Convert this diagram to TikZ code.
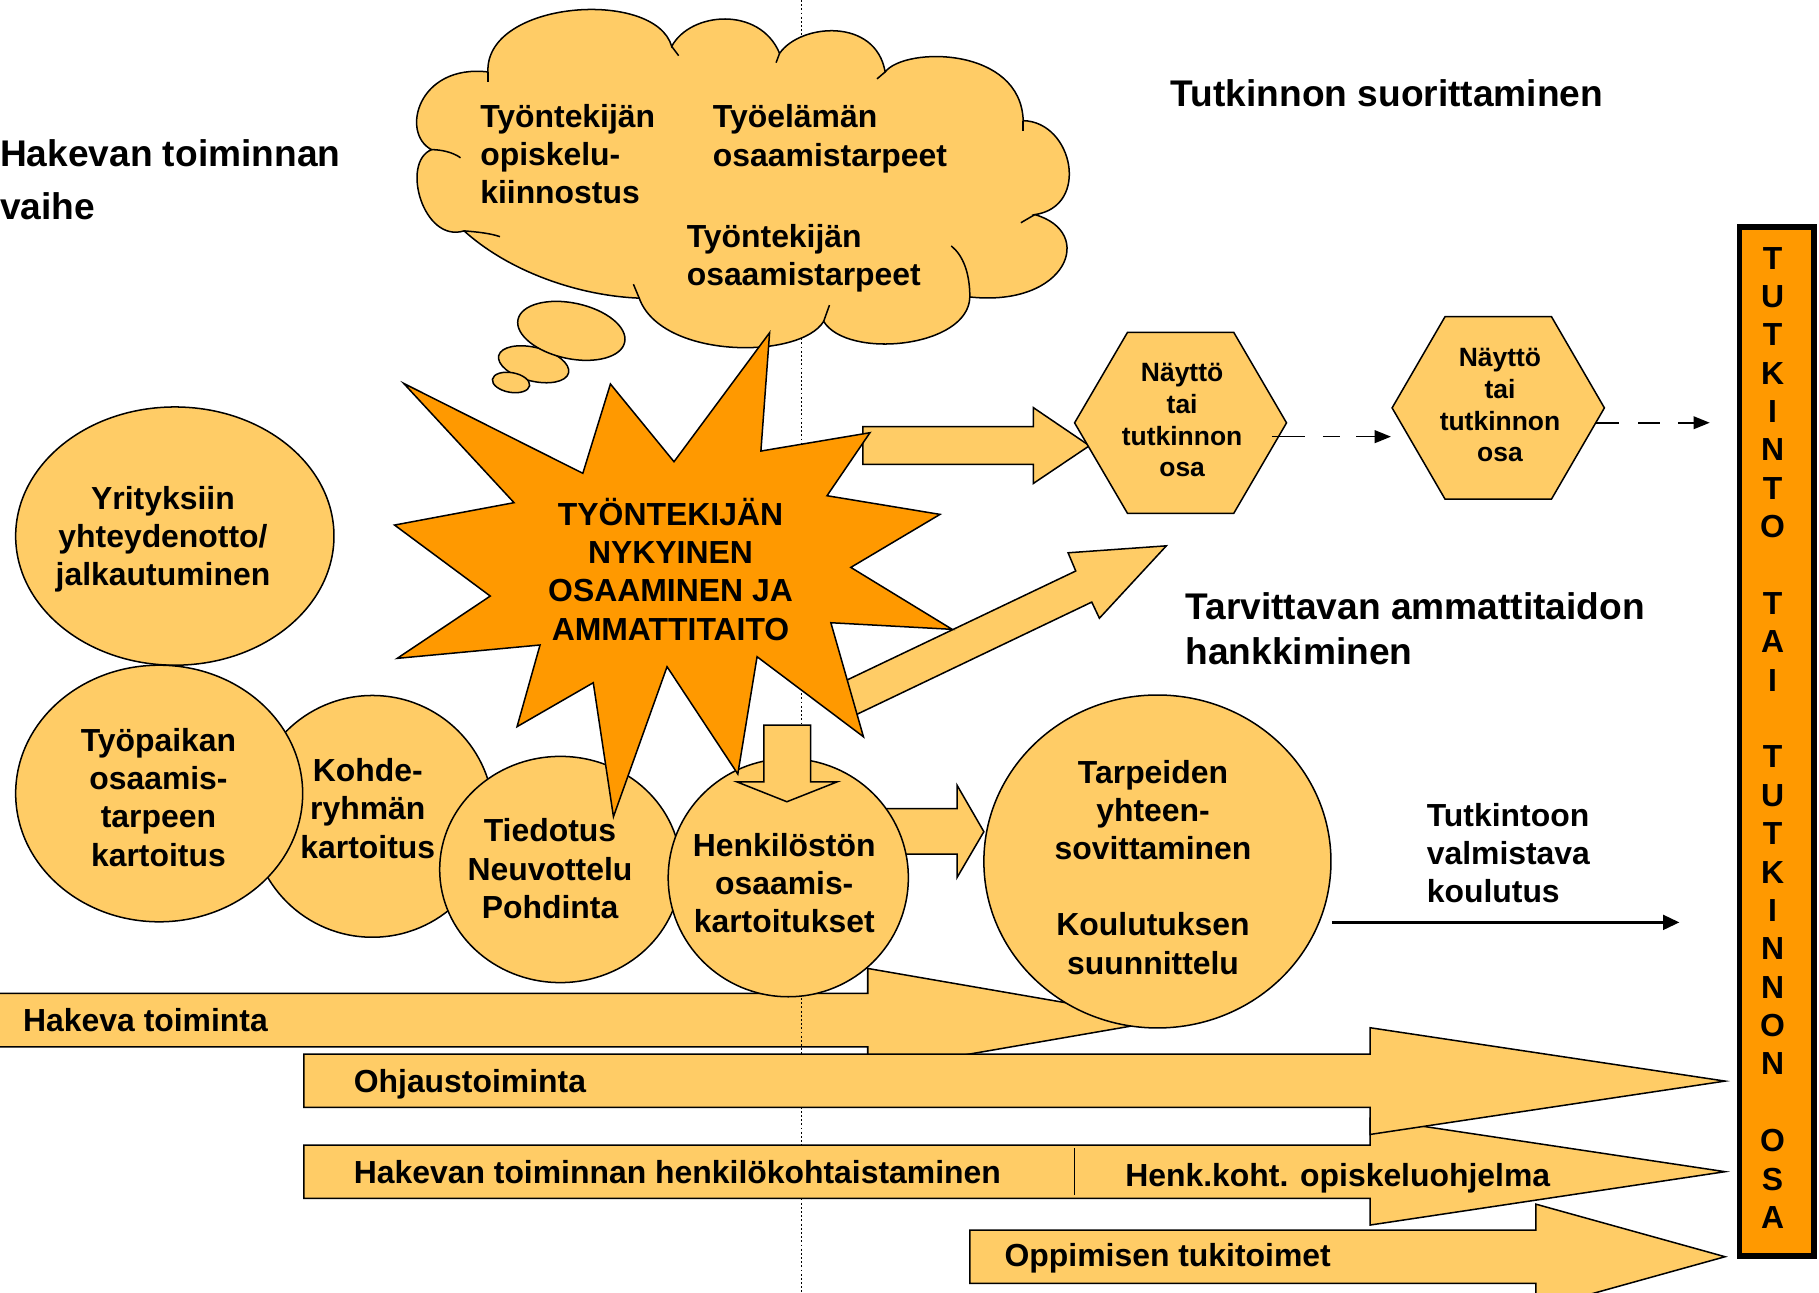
\documentclass[tikz,border=0pt]{standalone}
\usepackage{fontspec}
\setmainfont{Liberation Sans}
\usetikzlibrary{shapes.geometric,arrows.meta}
\definecolor{light}{HTML}{FFCC66}
\definecolor{orng}{HTML}{FF9900}
\newcommand\fbody{\fontsize{27.5}{33}\selectfont\bfseries}
\newcommand\ftitle{\fontsize{32}{38.4}\selectfont\bfseries}
\newcommand\fhex{\fontsize{22.8}{27.3}\selectfont\bfseries}
\begin{document}
\begin{tikzpicture}[x=1pt,y=-1pt,
  shp/.style={fill=light,draw=black,line width=1.3pt,line join=miter},
  oval/.style={shp,ellipse,inner sep=0pt,outer sep=0pt},
  txt/.style={inner sep=0pt,outer sep=0pt,font=\fbody,align=center,anchor=base},
  ltxt/.style={txt,align=left,anchor=base west},
  ttl/.style={inner sep=0pt,outer sep=0pt,font=\ftitle,align=left,anchor=base west},
  htxt/.style={txt,font=\fhex},
  tick/.style={draw=black,line width=1.3pt},
  dasharrow/.style={draw=black,line width=1.4pt,-{Triangle[length=14pt,width=11pt]}}
]
\useasboundingbox (0,0) rectangle (1568,1114);

% ---- Hakeva toiminta arrow (lowest layer) ----
\filldraw[shp] (-5,856.3) -- (748,856.3) -- (748,834.8) -- (1005,879.3) -- (748,923.8) -- (748,902.3) -- (-5,902.3) -- cycle;
\node[ltxt] (hakt) at (20,889.4) {Hakeva toiminta};

% ---- dotted divider ----
\coordinate (dtop) at (691,0);
\coordinate (dbot) at (691,1114);
\draw[line width=1.2pt,dash pattern=on 1.6pt off 2pt] (dtop) -- (dbot);

% ---- thought cloud ----
\filldraw[shp] (372,129)
  .. controls (345,115) and (360,55) .. (420.6,62)
  .. controls (418,0) and (565,-10) .. (579,40)
  .. controls (595,10) and (655,5) .. (672,46)
  .. controls (690,20) and (755,15) .. (763,62)
  .. controls (780,40) and (880,40) .. (882,104)
  .. controls (925,105) and (940,178) .. (892,185)
  .. controls (945,200) and (920,265) .. (836,256)
  .. controls (835,300) and (730,310) .. (710,277)
  .. controls (690,310) and (570,310) .. (551,257)
  .. controls (500,255) and (440,235) .. (400,199)
  .. controls (365,210) and (345,140) .. cycle;
\draw[tick] (420.6,62) -- (420.6,71);
\draw[tick] (579,40) -- (585,48);
\draw[tick] (672,46) -- (669,54);
\draw[tick] (763,62) -- (756,68);
\draw[tick] (882,104) -- (882,113);
\draw[tick] (892,185) -- (880,192);
\draw[tick] (836,256) .. controls (836,235) and (830,220) .. (820,212);
\draw[tick] (710,277) -- (715,263);
\draw[tick] (551,257) -- (546,245);
\draw[tick] (400,199) .. controls (412,200) and (422,201) .. (431,204);
\draw[tick] (372,129) .. controls (380,129) and (390,131) .. (397,136);
\node[oval,rotate=-14,minimum width=62pt,minimum height=29pt] (bub2) at (460,314) {};
\node[oval,rotate=-12,minimum width=94pt,minimum height=48pt] (bub1) at (492.5,285.2) {};
\node[oval,rotate=-10,minimum width=32.5pt,minimum height=17pt] (bub3) at (440.5,329.7) {};
\node[ltxt] (c1) at (414,175.5) {Työntekijän\\opiskelu-\\kiinnostus};
\node[ltxt] (c2) at (614.6,143.3) {Työelämän\\osaamistarpeet};
\node[ltxt] (c3) at (592,246.2) {Työntekijän\\osaamistarpeet};

% ---- arrows leaving the star (under the star) ----
\filldraw[shp] (743.7,367.8) -- (890.8,367.8) -- (890.8,351.4) -- (939.1,384.2) -- (890.8,416.7) -- (890.8,400.3) -- (743.7,400.3) -- cycle;
\filldraw[shp] (717.9,592) -- (927.3,492.2) -- (920.7,476.5) -- (1005.4,470.5) -- (947.7,532.9) -- (941.1,519) -- (731,619.4) -- cycle;

% ---- hexagons ----
\filldraw[shp] (926.3,364.5) -- (971.9,286.5) -- (1063.5,286.5) -- (1109,364.5) -- (1063.5,442.5) -- (971.9,442.5) -- cycle;
\filldraw[shp] (1200,351.6) -- (1245.6,273) -- (1337.4,273) -- (1383,351.6) -- (1337.4,430.2) -- (1245.6,430.2) -- cycle;
\node[htxt] (hx1) at (1019,410.9) {Näyttö\\tai\\tutkinnon\\osa};
\node[htxt] (hx2) at (1293,398) {Näyttö\\tai\\tutkinnon\\osa};
\coordinate (h1o) at (1096.3,376.4);
\coordinate (h2i) at (1199,376.4);
\coordinate (h2o) at (1375.3,364.4);
\coordinate (barin) at (1473.8,364.4);
\draw[dasharrow,dash pattern=on 29pt off 15pt on 15pt off 14pt on 40pt] (h1o) -- (h2i);
\draw[dasharrow,dash pattern=on 20pt off 17pt on 19pt off 15pt on 40pt] (h2o) -- (barin);

% ---- ovals ----
\node[oval,minimum width=274.4pt,minimum height=222.6pt] (yr) at (150.7,462.1) {};
\node[oval,minimum width=209pt,minimum height=208.4pt] (ko) at (321,703.7) {};
\node[oval,minimum width=247.4pt,minimum height=221.2pt] (ty) at (137.2,684) {};
\node[oval,minimum width=208pt,minimum height=195pt] (ti) at (483,749.5) {};
\filldraw[shp] (740,697) -- (825,697) -- (825,676.9) -- (848.1,716.9) -- (825,756.4) -- (825,736.2) -- (740,736.2) -- cycle;
\node[oval,minimum width=207pt,minimum height=205.2pt] (he) at (679.5,756.6) {};
\node[oval,minimum width=299.2pt,minimum height=287pt] (ta) at (997.7,742.6) {};

\node[txt] (yrt) at (140.5,505) {Yrityksiin\\yhteydenotto/\\jalkautuminen};
\node[txt] (tyt) at (136.6,746.5) {Työpaikan\\osaamis-\\tarpeen\\kartoitus};
\node[txt] (kot) at (317,739.7) {Kohde-\\ryhmän\\kartoitus};
\node[txt] (tit) at (474.1,791.6) {Tiedotus\\Neuvottelu\\Pohdinta};
\node[txt] (het) at (676,804) {Henkilöstön\\osaamis-\\kartoitukset};
\node[txt] (tat) at (993.9,839.8) {Tarpeiden\\yhteen-\\sovittaminen\\[32.6pt]Koulutuksen\\suunnittelu};

% ---- star ----
\filldraw[draw=black,fill=orng,line width=1.3pt,line join=miter]
  (348.0,330.5) -- (502.4,408.0) -- (526.2,331.0) -- (581.0,398.0) -- (663.4,286.8) -- (655.9,388.8)
  -- (749.9,373.0) -- (712.9,427.3) -- (810.3,443.4) -- (733.4,489.1) -- (820.8,542.5) -- (716.2,536.8)
  -- (744.3,635.1) -- (652.6,566.1) -- (636.0,667.2) -- (575.0,574.7) -- (528.8,704.0) -- (511.4,588.5)
  -- (445.7,626.4) -- (465.5,556.0) -- (342.4,567.5) -- (422.6,513.8) -- (340.1,452.6) -- (443.1,433.3) -- cycle;
\node[txt] (st) at (578,551.8) {TYÖNTEKIJÄN\\NYKYINEN\\OSAAMINEN JA\\AMMATTITAITO};

% ---- down arrow into Henkilöstön ----
\filldraw[shp] (658.4,625) -- (698.7,625) -- (698.7,673.9) -- (721.8,673.9) -- (678.3,691.1) -- (635,673.9) -- (658.4,673.9) -- cycle;

% ---- bottom arrows ----
\filldraw[shp] (262,987) -- (1181,987) -- (1181,964) -- (1487,1010) -- (1181,1056) -- (1181,1033) -- (262,1033) -- cycle;
\draw[line width=1pt] (926,990) -- (926,1030);
\filldraw[shp] (262,908.6) -- (1181,908.6) -- (1181,885.9) -- (1487,931.9) -- (1181,977.9) -- (1181,954.6) -- (262,954.6) -- cycle;
\filldraw[shp] (836,1060.3) -- (1324,1060.3) -- (1324,1038) -- (1487,1083.3) -- (1324,1128.6) -- (1324,1106.3) -- (836,1106.3) -- cycle;
\node[ltxt] (ohj) at (305,942) {Ohjaustoiminta};
\node[ltxt] (hkt) at (305,1020.1) {Hakevan toiminnan henkilökohtaistaminen};
\node[ltxt] (hko) at (970,1022.4) {Henk.koht. opiskeluohjelma};
\node[ltxt] (opp) at (866,1092) {Oppimisen tukitoimet};

% ---- training arrow ----
\node[ltxt] (tvk) at (1229.9,778.2) {Tutkintoon\\valmistava\\koulutus};
\coordinate (tvs) at (1148,795.1);
\coordinate (tve) at (1447.7,795.1);
\draw[line width=2.6pt,-{Triangle[length=14pt,width=12.5pt]}] (tvs) -- (tve);

% ---- titles ----
\node[ttl,font=\fontsize{32}{46}\selectfont\bfseries] (t1) at (0,189.1) {Hakevan toiminnan\\vaihe};
\node[ttl] (t2) at (1009.2,92) {Tutkinnon suorittaminen};
\node[ttl,font=\fontsize{32}{38.5}\selectfont\bfseries] (t3) at (1022,572.9) {Tarvittavan ammattitaidon\\hankkiminen};

% ---- right bar ----
\node[draw=black,fill=orng,line width=5pt,inner sep=0pt,outer sep=0pt,minimum width=64pt,minimum height=886.5pt] (bar) at (1531.5,639.25) {};
\node[txt,font=\fontsize{27.5}{33.08}\selectfont\bfseries] (bart) at (1528,1058.9)
  {T\\U\\T\\K\\I\\N\\T\\O\\\mbox{}\\T\\A\\I\\\mbox{}\\T\\U\\T\\K\\I\\N\\N\\O\\N\\\mbox{}\\O\\S\\A};
\end{tikzpicture}
\end{document}
